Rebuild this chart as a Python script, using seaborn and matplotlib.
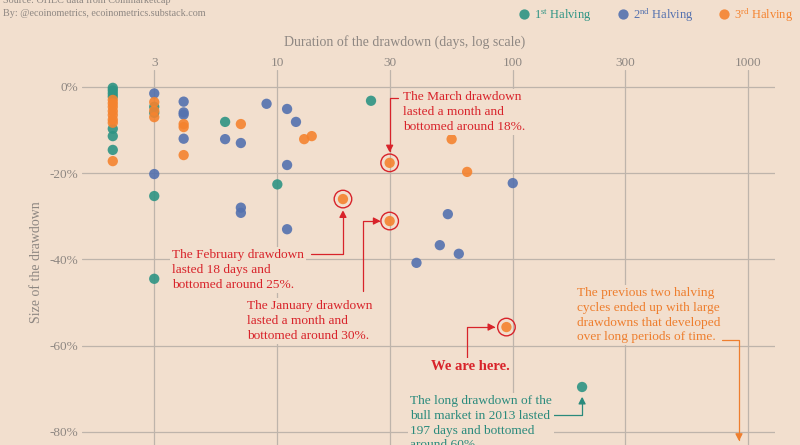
import numpy as np
import pandas as pd
import matplotlib
matplotlib.use("Agg")
import matplotlib.pyplot as plt
import seaborn as sns

# ---------------- data ----------------
halving_labels = [r"1$^{\rm st}$ Halving", r"2$^{\rm nd}$ Halving", r"3$^{\rm rd}$ Halving"]

first_days = [2, 2, 2, 2, 2, 2, 2, 3, 3, 3, 3, 6, 10, 25, 197]
first_dd = [-0.2, -0.8, -1.5, -2.2, -9.7, -11.4, -14.6, -4.6, -6.0, -25.3, -44.5, -8.1, -22.6, -3.2, -69.6]

second_days = [3, 3, 4, 4, 4, 4, 6, 7, 7, 7, 9, 11, 11, 11, 12, 39, 49, 53, 59, 100]
second_dd = [-1.5, -20.2, -3.4, -5.9, -6.4, -12.0, -12.1, -13.0, -28.0, -29.2, -3.9, -5.1, -18.1,
             -33.0, -8.1, -40.8, -36.7, -29.5, -38.7, -22.3]

third_days = [2, 2, 2, 2, 2, 2, 2, 2, 3, 3, 3, 4, 4, 4, 7, 13, 14, 55, 64, 19, 30, 30, 94]
third_dd = [-3.0, -3.8, -4.6, -5.6, -6.5, -7.6, -8.3, -17.2, -3.5, -5.5, -7.0, -8.6, -9.3, -15.8,
            -8.6, -12.1, -11.4, -12.1, -19.7, -26.0, -31.1, -17.6, -55.7]

# indices in the 3rd-halving series that are annotated (Feb, Jan, March, now)
highlight_idx = [19, 20, 21, 22]
bull2013_idx = 14  # index in first series

xticks = [3, 10, 30, 100, 300, 1000]
xtick_labels = ["3", "10", "30", "100", "300", "1000"]
yticks = [0, -20, -40, -60, -80]
ytick_labels = ["0%", "-20%", "-40%", "-60%", "-80%"]

# ---------------- style ----------------
BG = "#F2DFCE"
TEAL = "#2E9484"
BLUE = "#5471AF"
ORANGE = "#F5832F"
RED = "#D8232A"
GRAY = "#8E8782"
GRID = "#BEB4AB"
OTXT = "#EE7E2E"
TTXT = "#2A8A7C"
FONT = "Liberation Serif"

sns.set_theme(style="white")
plt.rcParams['font.family'] = [FONT, 'DejaVu Serif']
plt.rcParams['mathtext.fontset'] = 'custom'
plt.rcParams['mathtext.rm'] = FONT
plt.rcParams['mathtext.it'] = FONT + ':italic'
plt.rcParams['mathtext.bf'] = FONT + ':bold'

df = pd.DataFrame({
    "days": first_days + second_days + third_days,
    "dd": first_dd + second_dd + third_dd,
    "halving": [halving_labels[0]] * len(first_days) + [halving_labels[1]] * len(second_days)
               + [halving_labels[2]] * len(third_days),
})

W, H = 800, 445
fig = plt.figure(figsize=(W / 100, H / 100), dpi=100, facecolor=BG)
ax = fig.add_axes([82 / W, 0, 693 / W, 1 - 70 / H])
ax.set_facecolor(BG)

sns.scatterplot(data=df, x="days", y="dd", hue="halving", hue_order=halving_labels,
                palette=[TEAL, BLUE, ORANGE], s=55, alpha=0.9, edgecolor="none",
                ax=ax, zorder=3)
ax.set_xscale("log")
ax.set_xlim(1.48, 1300)
ax.set_ylim(-83.06, 3.94)

hx = [third_days[i] for i in highlight_idx]
hy = [third_dd[i] for i in highlight_idx]
ax.scatter(hx, hy, s=160, facecolors="none", edgecolors=RED, linewidths=1.0, zorder=4)

ax.xaxis.set_minor_locator(matplotlib.ticker.NullLocator())
ax.set_xticks(xticks)
ax.set_xticklabels(xtick_labels)
ax.set_yticks(yticks)
ax.set_yticklabels(ytick_labels)
ax.xaxis.tick_top()
ax.tick_params(axis="x", length=0, pad=1, labelsize=9.5, labelcolor=GRAY)
ax.tick_params(axis="y", length=0, pad=3, labelsize=9.5, labelcolor=GRAY)
ax.grid(True, color=GRID, lw=0.9)
ax.set_axisbelow(True)
for s in ax.spines.values():
    s.set_visible(False)
ax.set_xlabel("")
ax.set_ylabel("")

# legend
handles, labels = ax.get_legend_handles_labels()
if ax.legend_ is not None:
    ax.legend_.remove()
leg = fig.legend(handles, labels, loc="center right", bbox_to_anchor=(798 / W, 1 - 15 / H),
                 ncol=3, frameon=False, handletextpad=0.3, columnspacing=1.95, handlelength=1.0,
                 borderaxespad=0, fontsize=9, labelcolor=[TEAL, BLUE, ORANGE], markerscale=1.0)

# titles / labels
fig.text(405 / W, 1 - 42 / H, "Duration of the drawdown (days, log scale)", ha="center", va="center",
         fontsize=10, color=GRAY)
fig.text(37 / W, 1 - 262 / H, "Size of the drawdown", ha="center", va="center", rotation=90,
         fontsize=10, color=GRAY)
fig.text(3 / W, 1 - 0 / H, "Source: OHLC data from Coinmarketcap", ha="left", va="center",
         fontsize=7.3, color=GRAY)
fig.text(3 / W, 1 - 13 / H, "By: @ecoinometrics, ecoinometrics.substack.com", ha="left", va="center",
         fontsize=7.3, color=GRAY)


def px(x, y):
    return (x, H - y)


box = dict(boxstyle="square,pad=0.15", fc=BG, ec="none")
ANN_FS = 9.6
LS = 1.31


def note(x, y, s, color, **kw):
    fig.text(x / W, 1 - y / H, s, ha=kw.pop("ha", "left"), va=kw.pop("va", "top"), color=color,
             fontsize=kw.pop("fontsize", ANN_FS), linespacing=LS, bbox=box, zorder=6, **kw)


def arrow(start_px, end, color, angA, angB, shrink, end_coords="data"):
    ax.annotate("", xy=end, xycoords=end_coords, xytext=px(*start_px), textcoords="figure pixels",
                arrowprops=dict(arrowstyle="-|>,head_length=0.35,head_width=0.18", color=color, lw=0.9,
                                shrinkA=0, shrinkB=shrink,
                                connectionstyle=f"angle,angleA={angA},angleB={angB},rad=0"),
                zorder=5, annotation_clip=False)


note(403, 91, "The March drawdown\nlasted a month and\nbottomed around 18%.", RED)
arrow((398, 98), (third_days[21], third_dd[21]), RED, 0, 90, 7.5)

note(172, 249, "The February drawdown\nlasted 18 days and\nbottomed around 25%.", RED)
arrow((311, 254), (third_days[19], third_dd[19]), RED, 0, 90, 8)

note(247, 300, "The January drawdown\nlasted a month and\nbottomed around 30%.", RED)
arrow((363, 291), (third_days[20], third_dd[20]), RED, 90, 0, 6.5)

note(470, 367, "We are here.", RED, ha="center", va="center", fontweight="bold", fontsize=10.5)
arrow((467, 358), (third_days[22], third_dd[22]), RED, 90, 0, 8)

note(410, 395, "The long drawdown of the\nbull market in 2013 lasted\n197 days and bottomed\naround 60%.", TTXT)
arrow((553, 415), (first_days[bull2013_idx], first_dd[bull2013_idx]), TTXT, 0, 90, 7)

note(577, 287, "The previous two halving\ncycles ended up with large\ndrawdowns that developed\nover long periods of time.", OTXT)
arrow((722, 340), px(739, 441), OTXT, 0, 90, 0, end_coords="figure pixels")

fig.savefig("out.png", dpi=100, facecolor=BG)
